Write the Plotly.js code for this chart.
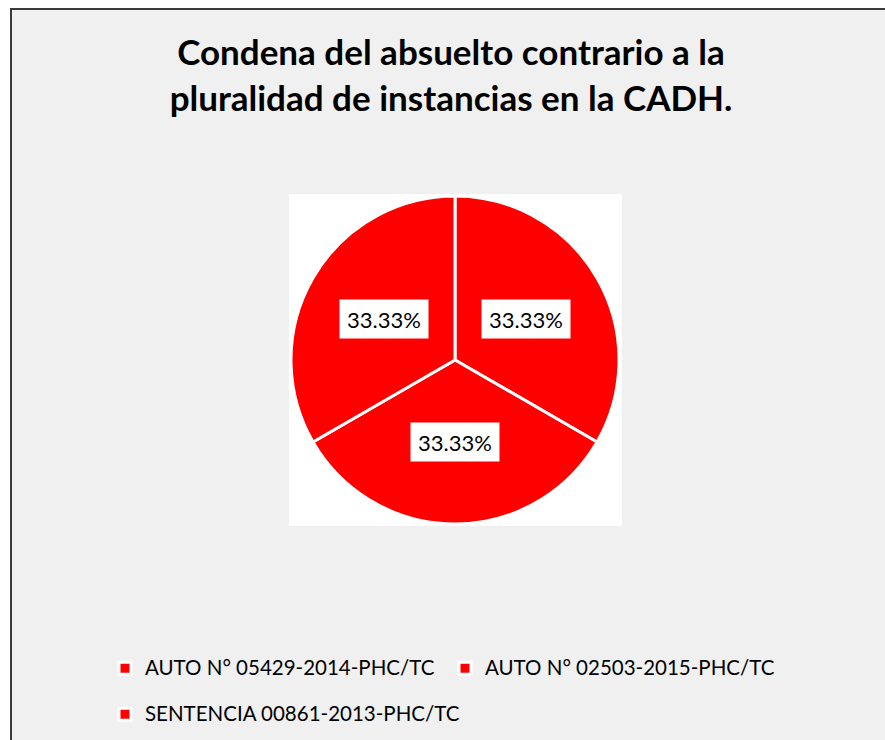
<!DOCTYPE html>
<html><head><meta charset="utf-8">
<script src="https://cdn.plot.ly/plotly-3.0.1.min.js"></script>
<style>
html,body{margin:0;padding:0;background:#fff;overflow:hidden;width:885px;height:740px;}
#wrap{position:absolute;left:10px;top:8px;border-left:2px solid #3a3a3a;border-top:2px solid #3a3a3a;width:880px;height:735px;background:#f0f0f0;overflow:hidden;}
#chart{width:875px;height:800px;}
</style></head>
<body><div id="wrap"><div id="chart"></div></div>
<script>
const titleText = 'Condena del absuelto contrario a la<br>pluralidad de instancias en la CADH.';
const categories = ['AUTO N° 05429-2014-PHC/TC', 'AUTO N° 02503-2015-PHC/TC', 'SENTENCIA 00861-2013-PHC/TC'];
const values = [1, 1, 1];
const sliceColors = ['#ff0000', '#ff0000', '#ff0000'];

const W = 875, H = 800, MR = 170;
const PW = W - MR;
const px = gx => gx / PW;
const py = gy => (H - gy) / H;
const OX = 12, OY = 10;
const cx = 455 - OX, cy = 360 - OY, R = 164;

const total = values.reduce((a, b) => a + b, 0);
const annotations = [];
let cum = 0;
values.forEach(v => {
  const th = 2 * Math.PI * (cum + v / 2) / total;
  cum += v;
  const gx = cx + 0.5 * R * Math.sin(th);
  const gy = cy - 0.5 * R * Math.cos(th);
  annotations.push({
    xref: 'paper', yref: 'paper', x: px(gx), y: py(gy),
    xanchor: 'center', yanchor: 'middle',
    text: (v / total * 100).toFixed(2) + '%', showarrow: false,
    bgcolor: '#ffffff', borderpad: 5, width: 78, height: 28,
    font: {family: 'Lato, sans-serif', size: 22, color: '#000'}
  });
});

// legend entries: visible text at 20.5px, with a blank second line to give the row spacing
const legendNames = categories.map(c => '<span style="font-size:20.5px">' + c + '</span><br>\u00a0');

const data = [{
  type: 'pie', labels: legendNames, values: values,
  sort: false, direction: 'clockwise', rotation: 0,
  textinfo: 'none', hoverinfo: 'percent',
  marker: {colors: sliceColors, line: {color: '#ffffff', width: 3}},
  domain: {x: [px(cx - R), px(cx + R)], y: [py(cy + R), py(cy - R)]}
}];

const layout = {
  width: W, height: H,
  margin: {l: 0, r: MR, t: 0, b: 0},
  paper_bgcolor: '#f0f0f0',
  showlegend: true,
  title: {
    text: titleText, xref: 'container', yref: 'container',
    x: (451 - OX) / W, xanchor: 'center', y: 1 - 55 / H, yanchor: 'top',
    font: {family: 'Lato, sans-serif', size: 35, color: '#000', weight: 'bold'}
  },
  legend: {
    orientation: 'h', xref: 'paper', yref: 'paper',
    x: px(93), xanchor: 'left', y: py(641), yanchor: 'top',
    entrywidth: 295, valign: 'top',
    font: {family: 'Lato, sans-serif', size: 16.5, color: '#000'},
    bgcolor: 'rgba(0,0,0,0)', traceorder: 'normal'
  },
  shapes: [{
    type: 'rect', xref: 'paper', yref: 'paper', layer: 'below',
    x0: px(289 - OX), x1: px(622 - OX), y0: py(526 - OY), y1: py(194 - OY),
    fillcolor: '#ffffff', line: {width: 0}
  }],
  annotations: annotations
};

Plotly.newPlot('chart', data, layout, {displayModeBar: false, staticPlot: true});
</script>
</body></html>
